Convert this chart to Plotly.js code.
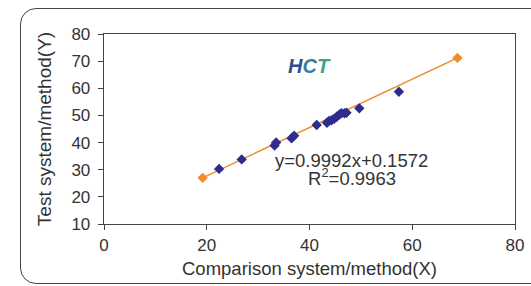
<!DOCTYPE html>
<html><head><meta charset="utf-8">
<script src="https://cdn.plot.ly/plotly-3.0.1.min.js"></script>
<style>
html,body{margin:0;padding:0;background:#fff;}
#frame{position:absolute;left:20px;top:8px;width:540px;height:274px;border:1.3px solid #444;border-radius:16px;}
#chart{position:absolute;left:0;top:0;width:531px;height:286px;}
</style></head><body>
<div id="frame"></div>
<div id="chart"></div>
<script>
const compX = [22.4, 26.8, 33.2, 33.5, 36.5, 37.0, 41.4, 43.4, 43.8, 44.3, 44.8, 45.3, 45.8, 46.2, 46.8, 47.2, 49.7, 57.4];
const testY = [30.3, 33.8, 38.9, 40.0, 41.6, 42.5, 46.5, 47.3, 48.0, 48.2, 48.8, 49.5, 50.3, 50.8, 50.8, 51.0, 52.6, 58.7];
const fitX = [19.2, 68.8];
const fitY = [27.0, 71.2];
const equation = "y=0.9992x+0.1572";
const r2 = "R<sup>2</sup>=0.9963";

const font = "Liberation Sans, Arial, sans-serif";
const data = [
  {x: fitX, y: fitY, type: 'scatter', mode: 'lines+markers',
   line: {color: '#F08C28', width: 1.5},
   marker: {symbol: 'diamond', size: 8, color: '#F08C28'}, showlegend: false},
  {x: compX, y: testY, type: 'scatter', mode: 'markers',
   marker: {symbol: 'diamond', size: 8, color: '#2E2C8E'}, showlegend: false}
];
const axisCommon = {showgrid: false, zeroline: false, showline: true, mirror: true,
  linecolor: '#444', linewidth: 1.3, ticks: 'outside', ticklen: 5, tickcolor: '#444',
  tickfont: {family: font, size: 17, color: '#333'}};
const hct = '<b><i><span style="color:#2D5089">H</span><span style="color:#3A7E98">C</span><span style="color:#41A08F">T</span></i></b>';
const layout = {
  width: 531, height: 286,
  margin: {l: 104, r: 16, t: 34, b: 62},
  paper_bgcolor: 'rgba(0,0,0,0)', plot_bgcolor: '#fff',
  xaxis: Object.assign({}, axisCommon, {range: [0, 80], dtick: 20, tick0: 0,
    title: {text: 'Comparison system/method(X)', font: {family: font, size: 18.5, color: '#333'}, standoff: 8}}),
  yaxis: Object.assign({}, axisCommon, {range: [10, 80], dtick: 10, tick0: 10, ticklabelstandoff: 4,
    title: {text: 'Test system/method(Y)', font: {family: font, size: 19, color: '#333'}, standoff: 14}}),
  annotations: [
    {xref: 'paper', yref: 'paper', x: 0.5, y: 0.9, text: hct, showarrow: false,
     font: {family: font, size: 20, color: '#3A7E98'}},
    {xref: 'paper', yref: 'paper', x: 0.603, y: 0.268, text: equation, showarrow: false,
     font: {family: font, size: 18.5, color: '#333'}},
    {xref: 'paper', yref: 'paper', x: 0.603, y: 0.172, text: r2, showarrow: false,
     font: {family: font, size: 18.5, color: '#333'}}
  ]
};
Plotly.newPlot('chart', data, layout, {displayModeBar: false, staticPlot: true});
</script>
</body></html>
